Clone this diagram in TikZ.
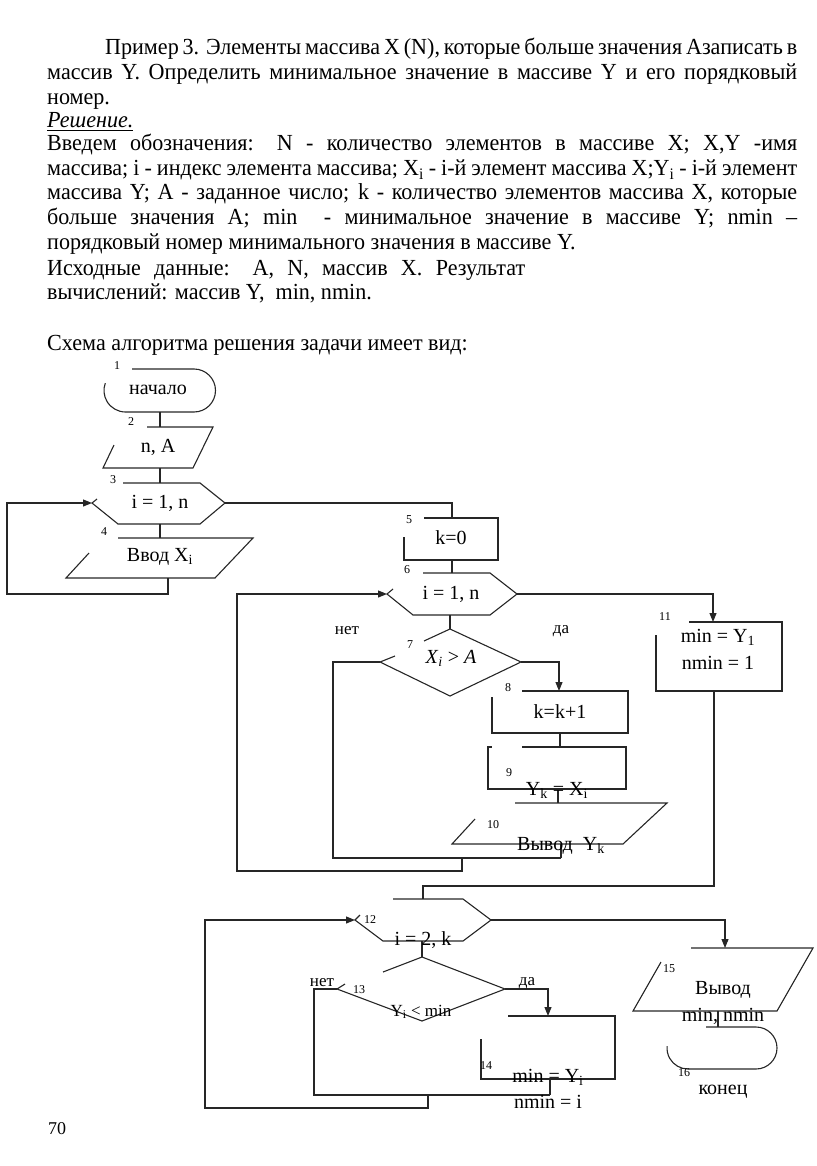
\documentclass[tikz,border=0pt]{standalone}
\usepackage{fontspec}
\setmainfont{Liberation Serif}
\newfontfamily\bodyfont{Liberation Serif}[FakeStretch=0.96]
\usetikzlibrary{arrows.meta}
\begin{document}
\begin{tikzpicture}[x=1pt,y=-1pt,
  shp/.style={draw=black!85, line width=1.1pt},
  con/.style={draw=black!85, line width=1.1pt},
  arr/.style={con, -{Triangle[length=9pt,width=7pt]}},
  ftxt/.style={font=\fontsize{20}{23}\selectfont, inner sep=0pt, align=center},
  stxt/.style={font=\fontsize{17}{19}\selectfont, inner sep=0pt},
  num/.style={font=\fontsize{12}{13}\selectfont, inner sep=0pt},
  btxt/.style={font=\bodyfont\fontsize{23}{26}\selectfont, anchor=base west, inner sep=0pt}]
\useasboundingbox (0,0) rectangle (816,1166);
% ---------- body text ----------
\node[btxt] (t1) at (105,55) {\makebox[692pt][s]{Пример 3. Элементы массива X (N), которые больше значения Азаписать в}};
\node[btxt] (t2) at (47,80) {\makebox[750pt][s]{массив Y. Определить минимальное значение в массиве Y и его порядковый}};
\node[btxt] (t3) at (47,105) {номер.};
\node[btxt] (t4) at (47,128) {\textit{\underline{Решение.}}};
\node[btxt] (t5) at (47,151) {\makebox[750pt][s]{Введем обозначения: N - количество элементов в массиве X; X,Y -имя}};
\node[btxt] (t6) at (47,176) {\makebox[750pt][s]{массива; i - индекс элемента массива; X\textsubscript{i} - i-й элемент массива X;Y\textsubscript{i} - i-й элемент}};
\node[btxt] (t7) at (47,200) {\makebox[750pt][s]{массива Y; A - заданное число; k - количество элементов массива X, которые}};
\node[btxt] (t8) at (47,225) {\makebox[750pt][s]{больше значения A; min \ - минимальное значение в массиве Y; nmin –}};
\node[btxt] (t9) at (47,250) {порядковый номер минимального значения в массиве Y.};
\node[btxt] (t10) at (47,275) {\makebox[478pt][s]{Исходные данные: A, N, массив X. Результат}};
\node[btxt] (t11) at (47,299) {вычислений: массив Y, \ min, nmin.};
\node[btxt] (t12) at (47,350) {Схема алгоритма решения задачи имеет вид:};
% ---------- block shapes ----------
% 1 terminal
\draw[shp] (132,369) -- (194,369) arc[start angle=270,end angle=450,radius=21.5] -- (125.5,412) arc[start angle=90,end angle=200,radius=21.5];
% 2 parallelogram
\draw[shp] (147,427) -- (213,427) -- (193,468) -- (103,468) -- (114,445);
% 3 hexagon
\draw[shp] (123,483) -- (200,483) -- (225,503) -- (200,524) -- (118,524) -- (92,503) -- (97,499);
% 4 parallelogram
\draw[shp] (118,538) -- (253,538) -- (215,578) -- (66,578) -- (89,553);
% 5 rect
\draw[shp] (424,518) -- (498,518) -- (498,560) -- (404,560) -- (404,537);
% 6 hexagon
\draw[shp] (423,573) -- (490,573) -- (517,594) -- (490,615) -- (413,615) -- (387,594) -- (393,589);
% 7 diamond
\draw[shp] (424,641) -- (450,629) -- (521,662) -- (450,696) -- (380,662) -- (395,656);
% 8 rect
\draw[shp] (522,691) -- (628,691) -- (628,733) -- (492,733) -- (492,697);
% 9 rect
\draw[shp] (522,747) -- (626,747) -- (626,789) -- (488,789) -- (488,747) -- (492,747);
% 10 parallelogram
\draw[shp] (515,803) -- (667,803) -- (623,844) -- (452,844) -- (475,819);
% 11 rect
\draw[shp] (689,622) -- (782,622) -- (782,691) -- (656,691) -- (656,635);
% 12 hexagon
\draw[shp] (393,899) -- (463,899) -- (491,920) -- (463,941) -- (383,941) -- (355,920) -- (360,915);
% 13 diamond
\draw[shp] (383,972) -- (422,957) -- (505,989) -- (422,1021) -- (337,989) -- (345,984);
% 14 rect
\draw[shp] (508,1016) -- (615,1016) -- (615,1079) -- (481,1079) -- (481,1039);
% 15 parallelogram
\draw[shp] (691,948) -- (813,948) -- (777,1011) -- (633,1011) -- (661,962);
% 16 terminal
\draw[shp] (706,1027) -- (756,1027) arc[start angle=270,end angle=450,radius=21] -- (688,1069) arc[start angle=90,end angle=185,radius=21];
% ---------- anchor coordinates ----------
\coordinate (b1s) at (160,412); \coordinate (b2n) at (160,427);
\coordinate (b2s) at (160,468); \coordinate (b3n) at (160,483);
\coordinate (b3s) at (160,524); \coordinate (b4n) at (160,538);
\coordinate (b3w) at (92,503);  \coordinate (b3e) at (225,503);
\coordinate (b4s) at (168,578);
\coordinate (b5n) at (452,518); \coordinate (b5s) at (452,560);
\coordinate (b6n) at (452,573); \coordinate (b6s) at (450,615);
\coordinate (b6w) at (387,594); \coordinate (b6e) at (517,594);
\coordinate (b7n) at (450,629); \coordinate (b7w) at (380,662); \coordinate (b7e) at (521,662);
\coordinate (b8n) at (559,691); \coordinate (b8s) at (560,733);
\coordinate (b9n) at (560,747); \coordinate (b9s) at (558,789);
\coordinate (b10n) at (558,803); \coordinate (b10s) at (561,844);
\coordinate (b11n) at (713,622); \coordinate (b11s) at (714,691);
\coordinate (b12n) at (423,899); \coordinate (b12s) at (422,941);
\coordinate (b12w) at (355,920); \coordinate (b12e) at (491,920);
\coordinate (b13n) at (422,957); \coordinate (b13w) at (337,989); \coordinate (b13e) at (505,989);
\coordinate (b14n) at (548,1016); \coordinate (b14s) at (550,1079);
\coordinate (b15n) at (725,948); \coordinate (b15s) at (718,1011);
\coordinate (b16n) at (718,1027);
\coordinate (j1) at (561,858); \coordinate (j2) at (462,858);
\coordinate (j3) at (550,1095); \coordinate (j4) at (428,1095);
% ---------- connectors ----------
\draw[con] (b1s) -- (b2n);
\draw[con] (b2s) -- (b3n);
\draw[con] (b3s) -- (b4n);
\draw[arr] (b4s) |- (7,594) |- (b3w);
\draw[con] (b3e) -| (b5n);
\draw[con] (b5s) -- (b6n);
\draw[con] (b6s) -- (b7n);
\draw[arr] (b6e) -| (b11n);
\draw[arr] (b7e) -| (b8n);
\draw[con] (b8s) -- (b9n);
\draw[con] (b9s) -- (b10n);
\draw[con] (b10s) -- (j1);
\draw[con] (b7w) -| (333,858) -- (j1);
\draw[arr] (j2) |- (237,871) |- (b6w);
\draw[con] (b11s) |- (423,886) -- (b12n);
\draw[arr] (b12e) -| (b15n);
\draw[con] (b12s) -- (b13n);
\draw[arr] (b13e) -| (b14n);
\draw[con] (b14s) -- (j3);
\draw[con] (b13w) -| (314,1095) -- (j3);
\draw[arr] (j4) |- (205,1108) |- (b12w);
\draw[con] (b15s) -- (b16n);
% ---------- block texts ----------
\node[ftxt] (l1) at (158,390) {начало};
\node[ftxt] (l2) at (158,447) {n, A};
\node[ftxt] (l3) at (160,503) {i = 1, n};
\node[ftxt] (l4) at (160,557) {Ввод X\textsubscript{i}};
\node[ftxt] (l5) at (451,538) {k=0};
\node[ftxt] (l6) at (451,594) {i = 1, n};
\node[ftxt] (l7) at (451,658) {\textit{X}\textsubscript{\textit{i}} > \textit{A}};
\node[ftxt] (l8) at (560,712) {k=k+1};
\node[ftxt] (l9) at (557,790) {Y\textsubscript{k} = X\textsubscript{i}};
\node[ftxt] (l10) at (561,846) {Вывод \ Y\textsubscript{k}};
\node[ftxt] (l11a) at (718,637) {min = Y\textsubscript{1}};
\node[ftxt] (l11b) at (718,663) {nmin = 1};
\node[ftxt] (l12) at (423,940) {i = 2, k};
\node[stxt] (l13) at (421,1012) {Y\textsubscript{i} < min};
\node[ftxt] (l14a) at (548,1077) {min = Y\textsubscript{i}};
\node[ftxt] (l14b) at (548,1102) {nmin = i};
\node[ftxt] (l15a) at (723,990) {Вывод};
\node[ftxt] (l15b) at (723,1016) {min, nmin};
\node[ftxt] (l16) at (723,1092) {конец};
\node[stxt] (no1) at (347,631) {нет};
\node[stxt] (yes1) at (561,631) {да};
\node[stxt] (no2) at (322,983) {нет};
\node[stxt] (yes2) at (527,983) {да};
% ---------- numbers ----------
\node[num] (n1) at (117,366) {1};
\node[num] (n2) at (131,422) {2};
\node[num] (n3) at (113,480) {3};
\node[num] (n4) at (104,532) {4};
\node[num] (n5) at (409,520) {5};
\node[num] (n6) at (407,570) {6};
\node[num] (n7) at (410,645) {7};
\node[num] (n8) at (508,688) {8};
\node[num] (n9) at (509,773) {9};
\node[num] (n10) at (493,825) {10};
\node[num] (n11) at (665,617) {11};
\node[num] (n12) at (370,920) {12};
\node[num] (n13) at (359,990) {13};
\node[num] (n14) at (486,1066) {14};
\node[num] (n15) at (669,969) {15};
\node[num] (n16) at (684,1073) {16};
\node[font=\fontsize{18}{20}\selectfont, inner sep=0pt] (pg) at (57,1129) {70};
\end{tikzpicture}
\end{document}
